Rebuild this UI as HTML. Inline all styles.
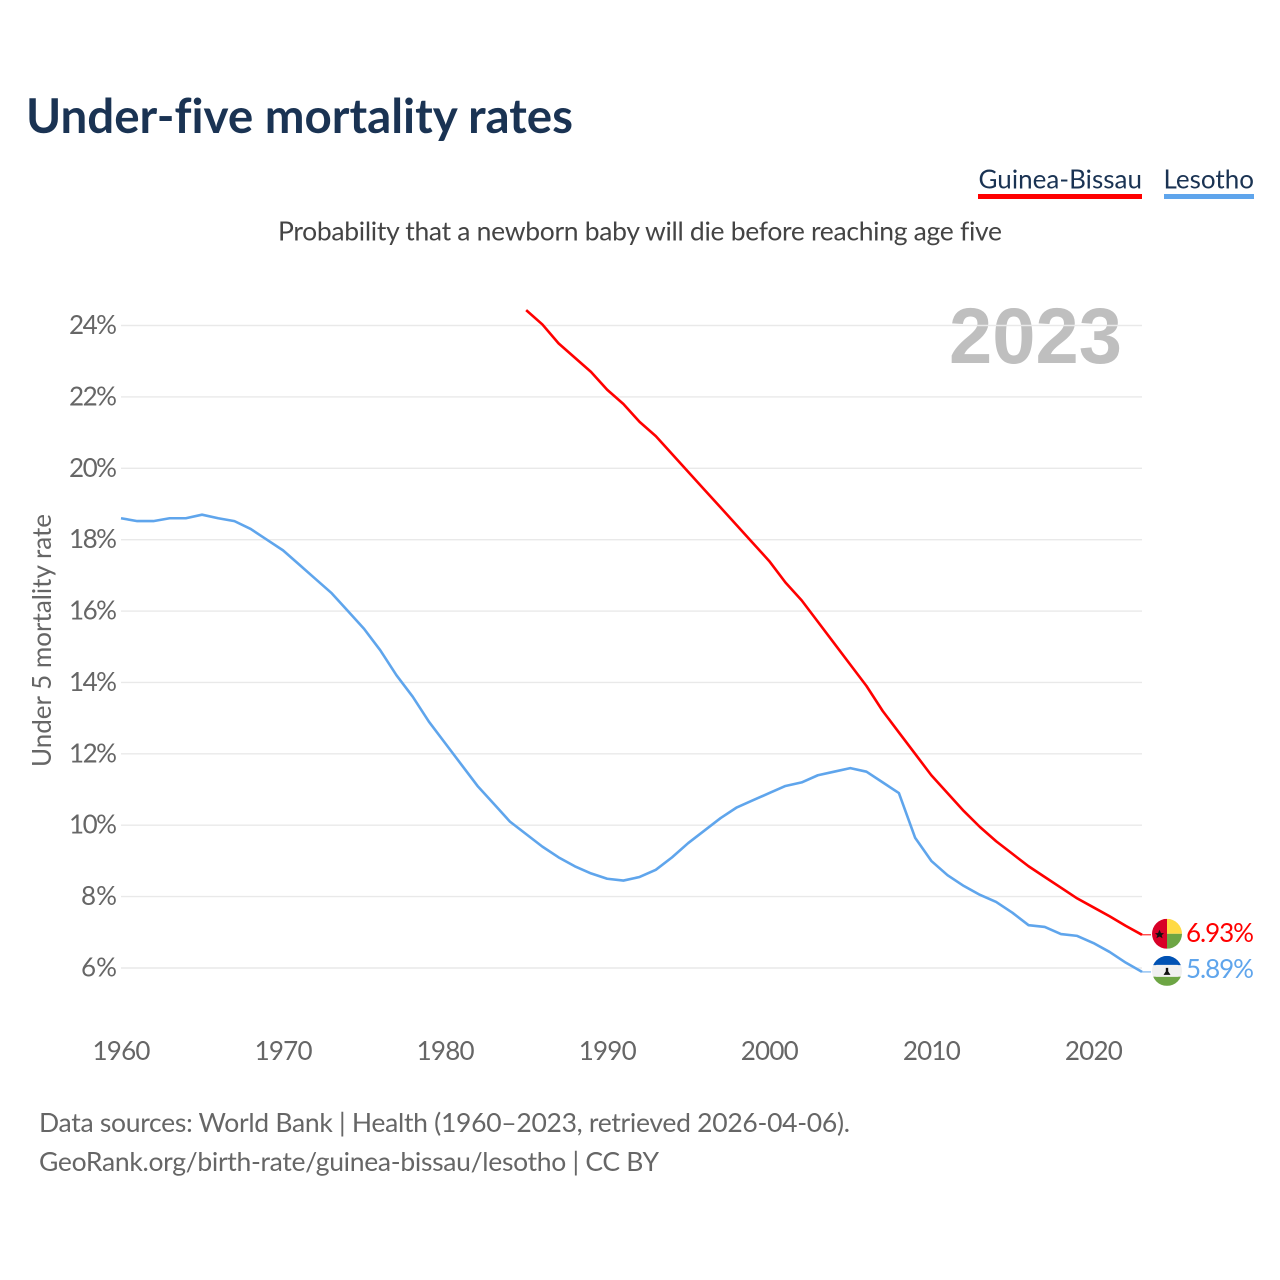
<!DOCTYPE html>
<html>
<head>
<meta charset="utf-8">
<title>Under-five mortality rates</title>
<style>
html,body{margin:0;padding:0;background:#fff;}
svg{display:block;}
text{font-family:"Lato","Carlito","Liberation Sans",sans-serif;font-variant-ligatures:none;}
</style>
</head>
<body>
<svg id="chart" width="1280" height="1280" viewBox="0 0 1280 1280" xmlns="http://www.w3.org/2000/svg">
  <defs>
    <clipPath id="clip-gb"><circle cx="0" cy="0" r="15"/></clipPath>
    <clipPath id="clip-ls"><circle cx="0" cy="0" r="15"/></clipPath>
  </defs>
  <text x="26" y="133" font-size="47.5" font-weight="700" fill="#1a3353" textLength="547" lengthAdjust="spacing">Under-five mortality rates</text>
  <g>
    <text x="978.5" y="188.5" font-size="26" fill="#1a3353" textLength="163.5" lengthAdjust="spacing">Guinea-Bissau</text>
    <rect x="978" y="194" width="164" height="5" fill="#ff0000"/>
  </g>
  <g>
    <text x="1163.5" y="188.5" font-size="26" fill="#1a3353" textLength="90.5" lengthAdjust="spacing">Lesotho</text>
    <rect x="1164" y="194" width="90" height="5" fill="#5fa5ec"/>
  </g>
  <text x="278" y="240.5" font-size="26.5" fill="#444" textLength="724" lengthAdjust="spacing">Probability that a newborn baby will die before reaching age five</text>
  <text x="949" y="363" font-size="79" font-weight="700" fill="#bfbfbf" textLength="173" lengthAdjust="spacingAndGlyphs" style='font-family:"Liberation Sans",sans-serif'>2023</text>
  <g id="grid"></g>
  <g id="yticks"></g>
  <g id="xticks"></g>
  <text transform="translate(51 767) rotate(-90)" x="0" y="0" font-size="26" fill="#666" textLength="253" lengthAdjust="spacing">Under 5 mortality rate</text>
  <g id="series"></g>
  <g id="endpoints"></g>
  <text x="39" y="1132" font-size="26.5" fill="#666" textLength="811" lengthAdjust="spacing">Data sources: World Bank | Health (1960–2023, retrieved 2026-04-06).</text>
  <text x="39" y="1171" font-size="26.5" fill="#666" textLength="620" lengthAdjust="spacing">GeoRank.org/birth-rate/guinea-bissau/lesotho | CC BY</text>
</svg>
<script>
const yTickValues = [6, 8, 10, 12, 14, 16, 18, 20, 22, 24];
const xTickYears = [1960, 1970, 1980, 1990, 2000, 2010, 2020];
const lesothoStartYear = 1960;
const lesothoValues = [18.6,18.52,18.52,18.6,18.6,18.7,18.6,18.52,18.3,18.0,
  17.7,17.3,16.9,16.5,16.0,15.5,14.9,14.2,13.6,12.9,
  12.3,11.7,11.1,10.6,10.1,9.75,9.4,9.1,8.85,8.65,
  8.5,8.45,8.55,8.75,9.1,9.5,9.85,10.2,10.5,10.7,
  10.9,11.1,11.2,11.4,11.5,11.6,11.5,11.2,10.9,9.65,
  9.0,8.6,8.3,8.05,7.85,7.55,7.2,7.15,6.95,6.9,
  6.7,6.45,6.15,5.89];
const guineaStartYear = 1985;
const guineaValues = [24.43,24.03,23.5,23.1,22.7,22.2,21.8,21.3,20.9,20.4,
  19.9,19.4,18.9,18.4,17.9,17.4,16.8,16.3,15.7,15.1,
  14.5,13.9,13.2,12.6,12.0,11.4,10.9,10.4,9.95,9.55,
  9.2,8.85,8.55,8.25,7.95,7.7,7.45,7.18,6.93];

const SVG_NS = 'http://www.w3.org/2000/svg';
const xScale = year => 121 + (year - 1960) * (1142 - 121) / 63;
const yScale = value => 968 - (value - 6) * (968 - 325.5) / 18;

function make(tag, attrs, parent, text) {
  const el = document.createElementNS(SVG_NS, tag);
  for (const k in attrs) el.setAttribute(k, attrs[k]);
  if (text !== undefined) el.textContent = text;
  parent.appendChild(el);
  return el;
}

const grid = document.getElementById('grid');
const yticks = document.getElementById('yticks');
yTickValues.forEach(v => {
  const line = make('line', {x1: 121, x2: 1142, y1: yScale(v), y2: yScale(v), stroke: '#e9e9e9', 'stroke-width': 1.4}, grid);
  
  
  const label = make('text', {x: 117, y: yScale(v) + 8.5, 'text-anchor': 'end', 'font-size': 26, fill: '#666',
    textLength: v < 10 ? 36 : 48, lengthAdjust: 'spacing'}, yticks, v + '%');
  
  
});

const xticks = document.getElementById('xticks');
xTickYears.forEach(y => {
  const label = make('text', {x: xScale(y) - 28.5, y: 1060, 'font-size': 26, fill: '#666',
    textLength: 58, lengthAdjust: 'spacing'}, xticks, String(y));
  
  
});

function linePoints(startYear, values) {
  return values.map((v, i) => xScale(startYear + i).toFixed(2) + ',' + yScale(v).toFixed(2)).join(' ');
}

const series = document.getElementById('series');
const lesothoLine = make('polyline', {points: linePoints(lesothoStartYear, lesothoValues), fill: 'none',
  stroke: '#5fa5ec', 'stroke-width': 2.6, 'stroke-linejoin': 'round'}, series);


const guineaLine = make('polyline', {points: linePoints(guineaStartYear, guineaValues), fill: 'none',
  stroke: '#ff0000', 'stroke-width': 2.6, 'stroke-linejoin': 'round'}, series);



const endpoints = document.getElementById('endpoints');
const endX = xScale(2023);

// Guinea-Bissau end marker
const gbLast = guineaValues[guineaValues.length - 1];
const gbY = yScale(gbLast);
const gbStub = make('line', {x1: endX, x2: endX + 9, y1: gbY, y2: gbY, stroke: '#ff0000', 'stroke-width': 1}, endpoints);


const gbFlag = make('g', {transform: 'translate(' + (endX + 25) + ' ' + (gbY - 1) + ')', 'clip-path': 'url(#clip-gb)'}, endpoints);


make('rect', {x: -15, y: -15, width: 15, height: 30, fill: '#d80027'}, gbFlag);
make('rect', {x: 0, y: -15, width: 15, height: 15, fill: '#ffda44'}, gbFlag);
make('rect', {x: 0, y: 0, width: 15, height: 15, fill: '#6da544'}, gbFlag);
make('polygon', {points: '-7.5,-4 -6,-0.7 -3,-0.7 -5.3,1.4 -4.4,4.5 -7.5,2.7 -10.6,4.5 -9.7,1.4 -12,-0.7 -9,-0.7', fill: '#111'}, gbFlag);
const gbLabel = make('text', {x: 1254, y: gbY + 7, 'text-anchor': 'end', 'font-size': 26, fill: '#ff0000',
  textLength: 68, lengthAdjust: 'spacing'}, endpoints, gbLast.toFixed(2) + '%');



// Lesotho end marker
const lsLast = lesothoValues[lesothoValues.length - 1];
const lsY = yScale(lsLast);
const lsStub = make('line', {x1: endX, x2: endX + 9, y1: lsY, y2: lsY, stroke: '#5fa5ec', 'stroke-width': 1}, endpoints);


const lsFlag = make('g', {transform: 'translate(' + (endX + 25) + ' ' + (lsY - 1) + ')', 'clip-path': 'url(#clip-ls)'}, endpoints);


make('rect', {x: -15, y: -15, width: 30, height: 30, fill: '#f0f0f0'}, lsFlag);
make('path', {d: 'M-15,-15H15V-6Q12,-5.5 10.5,-6H-10.5Q-12,-5.5 -15,-6Z', fill: '#0052b4'}, lsFlag);
make('path', {d: 'M-15,6Q-12,5.5 -10.5,6H10.5Q12,5.5 15,6V15H-15Z', fill: '#6da544'}, lsFlag);
make('path', {d: 'M-1.2,-3H1.2V0.5L3.5,4H-3.5L-1.2,0.5Z', fill: '#111'}, lsFlag);
const lsLabel = make('text', {x: 1254, y: lsY + 6, 'text-anchor': 'end', 'font-size': 26, fill: '#5fa5ec',
  textLength: 68, lengthAdjust: 'spacing'}, endpoints, lsLast.toFixed(2) + '%');


</script>
</body>
</html>
